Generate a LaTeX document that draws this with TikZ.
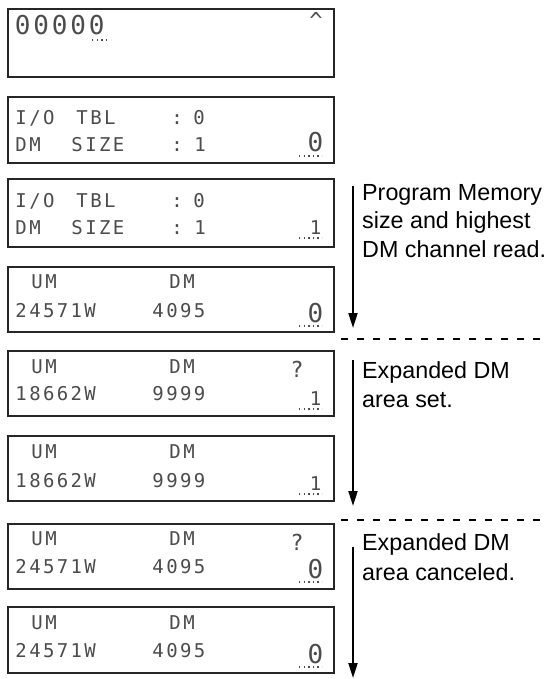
\documentclass[tikz,border=0pt]{standalone}
\usepackage{fontspec}
\setmainfont{Liberation Sans}
\newfontfamily\lcdfont{DejaVu Sans Mono}
\usetikzlibrary{arrows.meta}
\newlength\lcdp
\def\lcdloop#1{\ifx#1\relax\else\makebox[\lcdp]{#1}\expandafter\lcdloop\fi}
\newcommand\lcdstr[2]{\setlength\lcdp{#1}\lcdloop#2\relax}
\tikzset{
  lcdbox/.style={draw=black!85, line width=1.8pt, fill=white, minimum width=326pt, inner sep=0pt, anchor=north west},
  lcd/.style={inner sep=0pt, anchor=base west, text=black!70, font=\lcdfont\fontsize{19pt}{19pt}\selectfont},
  lcdbig/.style={inner sep=0pt, anchor=base, text=black!70, font=\lcdfont\fontsize{26pt}{26pt}\selectfont},
  curs/.style={black!70, line width=1.4pt, dash pattern=on 1.4pt off 3.2pt},
  note/.style={inner sep=0pt, anchor=base west, font=\fontsize{23.3pt}{28pt}\selectfont},
  arr/.style={line width=2pt, -{Triangle[length=15pt,width=9pt]}},
  sep/.style={line width=1.6pt, dash pattern=on 7pt off 9pt}
}
\begin{document}
\begin{tikzpicture}[x=1pt,y=-1pt]
\useasboundingbox (0,0) rectangle (548,679);
% ---------- boxes ----------
\node[lcdbox, minimum height=68pt] (b1) at (7,8) {};
\node[lcdbox, minimum height=66pt] (b2) at (7,96) {};
\node[lcdbox, minimum height=68pt] (b3) at (7,178) {};
\node[lcdbox, minimum height=65pt] (b4) at (7,266) {};
\node[lcdbox, minimum height=65pt] (b5) at (7,350) {};
\node[lcdbox, minimum height=65pt] (b6) at (7,435) {};
\node[lcdbox, minimum height=65pt] (b7) at (7,523) {};
\node[lcdbox, minimum height=66pt] (b8) at (7,606) {};
% ---------- box 1 ----------
\node[lcd, font=\lcdfont\fontsize{26pt}{26pt}\selectfont] (t1a) at (13.25,35) {\lcdstr{18.5pt}{00000}};
\coordinate (c1a) at (92,40);
\coordinate (c1b) at (108,40);
\draw[curs] (c1a) -- (c1b);
\node[lcdbig, font=\lcdfont\fontsize{22pt}{22pt}\selectfont] (t1b) at (316,29) {\textasciicircum};
% ---------- box 2 ----------
\node[lcd] (t2a) at (14.1,125) {\lcdstr{13.8pt}{I/O}};
\node[lcd] (t2b) at (75.1,125) {\lcdstr{13.8pt}{TBL}};
\node[lcd] (t2c) at (170.1,125) {\lcdstr{13.8pt}{:}};
\node[lcd] (t2d) at (192.1,125) {\lcdstr{13.8pt}{0}};
\node[lcd] (t2e) at (14.1,152) {\lcdstr{13.8pt}{DM}};
\node[lcd] (t2f) at (70.1,152) {\lcdstr{13.8pt}{SIZE}};
\node[lcd] (t2g) at (170.1,152) {\lcdstr{13.8pt}{:}};
\node[lcd] (t2h) at (193.1,152) {\lcdstr{13.8pt}{1}};
\node[lcdbig] (t2i) at (315.5,152) {0};
\coordinate (c2a) at (299,156);
\coordinate (c2b) at (322,156);
\draw[curs] (c2a) -- (c2b);
% ---------- box 3 ----------
\node[lcd] (t3a) at (14.1,207) {\lcdstr{13.8pt}{I/O}};
\node[lcd] (t3b) at (75.1,207) {\lcdstr{13.8pt}{TBL}};
\node[lcd] (t3c) at (170.1,207) {\lcdstr{13.8pt}{:}};
\node[lcd] (t3d) at (192.1,207) {\lcdstr{13.8pt}{0}};
\node[lcd] (t3e) at (14.1,234) {\lcdstr{13.8pt}{DM}};
\node[lcd] (t3f) at (70.1,234) {\lcdstr{13.8pt}{SIZE}};
\node[lcd] (t3g) at (170.1,234) {\lcdstr{13.8pt}{:}};
\node[lcd] (t3h) at (193.1,234) {\lcdstr{13.8pt}{1}};
\node[lcd] (t3i) at (308.6,234) {\lcdstr{13.8pt}{1}};
\coordinate (c3a) at (299,238);
\coordinate (c3b) at (322,238);
\draw[curs] (c3a) -- (c3b);
% ---------- box 4 ----------
\node[lcd] (t4a) at (30.1,288) {\lcdstr{13.8pt}{UM}};
\node[lcd] (t4b) at (168.1,288) {\lcdstr{13.8pt}{DM}};
\node[lcd] (t4c) at (14.1,317) {\lcdstr{13.8pt}{24571W}};
\node[lcd] (t4d) at (151.1,317) {\lcdstr{13.8pt}{4095}};
\node[lcdbig] (t4e) at (315.5,322) {0};
\coordinate (c4a) at (299,326);
\coordinate (c4b) at (322,326);
\draw[curs] (c4a) -- (c4b);
% ---------- box 5 ----------
\node[lcd] (t5a) at (30.1,373) {\lcdstr{13.8pt}{UM}};
\node[lcd] (t5b) at (168.1,373) {\lcdstr{13.8pt}{DM}};
\node[lcdbig, font=\lcdfont\fontsize{22pt}{22pt}\selectfont] (t5q) at (297,377) {?};
\node[lcd] (t5c) at (14.1,400) {\lcdstr{13.8pt}{18662W}};
\node[lcd] (t5d) at (151.1,400) {\lcdstr{13.8pt}{9999}};
\node[lcd] (t5e) at (308.6,405) {\lcdstr{13.8pt}{1}};
\coordinate (c5a) at (299,409);
\coordinate (c5b) at (322,409);
\draw[curs] (c5a) -- (c5b);
% ---------- box 6 ----------
\node[lcd] (t6a) at (30.1,458) {\lcdstr{13.8pt}{UM}};
\node[lcd] (t6b) at (168.1,458) {\lcdstr{13.8pt}{DM}};
\node[lcd] (t6c) at (14.1,487) {\lcdstr{13.8pt}{18662W}};
\node[lcd] (t6d) at (151.1,487) {\lcdstr{13.8pt}{9999}};
\node[lcd] (t6e) at (308.6,490) {\lcdstr{13.8pt}{1}};
\coordinate (c6a) at (299,494);
\coordinate (c6b) at (322,494);
\draw[curs] (c6a) -- (c6b);
% ---------- box 7 ----------
\node[lcd] (t7a) at (30.1,545) {\lcdstr{13.8pt}{UM}};
\node[lcd] (t7b) at (168.1,545) {\lcdstr{13.8pt}{DM}};
\node[lcdbig, font=\lcdfont\fontsize{22pt}{22pt}\selectfont] (t7q) at (297,550) {?};
\node[lcd] (t7c) at (14.1,573) {\lcdstr{13.8pt}{24571W}};
\node[lcd] (t7d) at (151.1,573) {\lcdstr{13.8pt}{4095}};
\node[lcdbig] (t7e) at (315.5,578) {0};
\coordinate (c7a) at (299,582);
\coordinate (c7b) at (322,582);
\draw[curs] (c7a) -- (c7b);
% ---------- box 8 ----------
\node[lcd] (t8a) at (30.1,629) {\lcdstr{13.8pt}{UM}};
\node[lcd] (t8b) at (168.1,629) {\lcdstr{13.8pt}{DM}};
\node[lcd] (t8c) at (14.1,657) {\lcdstr{13.8pt}{24571W}};
\node[lcd] (t8d) at (151.1,657) {\lcdstr{13.8pt}{4095}};
\node[lcdbig] (t8e) at (315.5,663) {0};
\coordinate (c8a) at (299,667);
\coordinate (c8b) at (322,667);
\draw[curs] (c8a) -- (c8b);
% ---------- arrows ----------
\coordinate (a1s) at (353,186);
\coordinate (a1e) at (353,328);
\draw[arr] (a1s) -- (a1e);
\coordinate (a2s) at (353,360);
\coordinate (a2e) at (353,506);
\draw[arr] (a2s) -- (a2e);
\coordinate (a3s) at (353,547);
\coordinate (a3e) at (353,678);
\draw[arr] (a3s) -- (a3e);
% ---------- separators ----------
\coordinate (d1a) at (341,339);
\coordinate (d1b) at (548,339);
\draw[sep] (d1a) -- (d1b);
\coordinate (d2a) at (341,520);
\coordinate (d2b) at (548,520);
\draw[sep] (d2a) -- (d2b);
% ---------- notes ----------
\node[note] (n1a) at (362,200) {Program Memory};
\node[note] (n1b) at (362,228.5) {size and highest};
\node[note] (n1c) at (362,257) {DM channel read.};
\node[note] (n2a) at (362,378) {Expanded DM};
\node[note] (n2b) at (362,407) {area set.};
\node[note] (n3a) at (362,550) {Expanded DM};
\node[note] (n3b) at (362,580) {area canceled.};
\end{tikzpicture}
\end{document}
